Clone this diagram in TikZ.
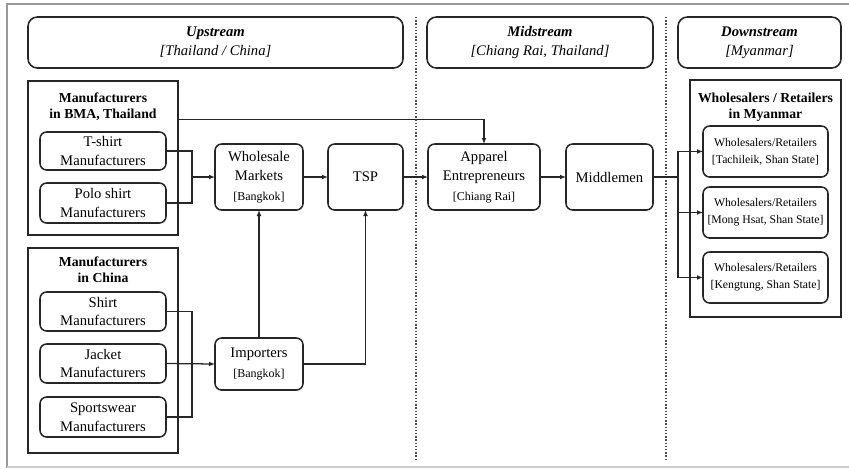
\documentclass[tikz,border=0pt]{standalone}
\usepackage{fontspec}
\setmainfont{Liberation Serif}
\usetikzlibrary{calc,arrows.meta}
% smaller type for the location tags under a box title
\newcommand\placetag[1]{{\fontsize{9}{11}\selectfont #1}}
\begin{document}
\begin{tikzpicture}[x=0.75pt,y=-0.75pt,
  every node/.style={inner sep=0pt, outer sep=0pt, text=black},
  sz/.style 2 args={minimum width=#1*0.75pt, minimum height=#2*0.75pt},
  stage/.style={draw=black!85, line width=1.2pt, rounded corners=7pt, align=center,
    font=\fontsize{11}{14.25}\selectfont},
  group/.style={draw=black!85, line width=1.3pt},
  unit/.style={draw=black!85, line width=1.15pt, rounded corners=5pt, align=center,
    font=\fontsize{11}{14}\selectfont},
  shop/.style={unit, font=\fontsize{8.8}{12.5}\selectfont},
  gtitle/.style={align=center, font=\bfseries\fontsize{10.3}{12}\selectfont},
  link/.style={line width=0.95pt, draw=black!85},
  arr/.style={link, -{Latex[length=4.5pt,width=3.6pt]}},
  divider/.style={line width=1.2pt, draw=black!70, dash pattern=on 1pt off 1.4pt},
  frame/.style={line width=1.5pt, draw=black!40}
]
\useasboundingbox (0,0) rectangle (849,468);

% page frame
\draw[frame] (849,4) -- (7,4) -- (7,468);
\draw[frame, draw=black!20] (7,466.5) -- (849,466.5);

% stage dividers
\draw[divider] (416,17) -- (416,460);
\draw[divider] (666,17) -- (666,460);

% stage headers
\node[stage, sz={375}{51}] (up) at (215.5,42.5) {\textbf{\textit{Upstream}}\\\textit{[Thailand / China]}};
\node[stage, sz={226}{51}] (mid) at (540,42.5) {\textbf{\textit{Midstream}}\\\textit{[Chiang Rai, Thailand]}};
\node[stage, sz={163}{51}] (down) at (759.5,42.5) {\textbf{\textit{Downstream}}\\\textit{[Myanmar]}};

% manufacturer groups
\node[group, sz={150}{154}] (bma) at (103,158) {};
\node[gtitle] (bmat) at (103,107) {Manufacturers\\in BMA, Thailand};
\node[unit, sz={126}{38}] (ts) at (103,151) {T-shirt\\Manufacturers};
\node[unit, sz={126}{40}] (po) at (103,203) {Polo shirt\\Manufacturers};

\node[group, sz={150}{205}] (cn) at (103,350.5) {};
\node[gtitle] (cnt) at (103,270) {Manufacturers\\in China};
\node[unit, sz={126}{39}] (sh) at (103,311.5) {Shirt\\Manufacturers};
\node[unit, sz={126}{39}] (ja) at (103,363.5) {Jacket\\Manufacturers};
\node[unit, sz={126}{40}] (sp) at (103,417) {Sportswear\\Manufacturers};

% trade chain
\node[unit, sz={88}{66}] (wm) at (259,177) {Wholesale\\Markets\\[1pt]\placetag{[Bangkok]}};
\node[unit, sz={75}{66}] (tsp) at (365.5,177) {TSP};
\node[unit, sz={88}{52}] (im) at (259,364) {Importers\\[1pt]\placetag{[Bangkok]}};
\node[unit, sz={112}{66}] (ap) at (484,177) {Apparel\\Entrepreneurs\\[1pt]\placetag{[Chiang Rai]}};
\node[unit, sz={87}{66}] (mm) at (609.5,177) {Middlemen};

% Myanmar outlets
\node[group, sz={151}{237}] (mya) at (765.5,198.5) {};
\node[gtitle] (myat) at (765.5,107) {Wholesalers / Retailers\\in Myanmar};
\node[shop, sz={125}{51}] (wr1) at (765.5,151.5) {Wholesalers/Retailers\\{[Tachileik, Shan State]}};
\node[shop, sz={125}{51}] (wr2) at (765.5,212.5) {Wholesalers/Retailers\\{[Mong Hsat, Shan State]}};
\node[shop, sz={125}{51}] (wr3) at (765.5,277.5) {Wholesalers/Retailers\\{[Kengtung, Shan State]}};

% junction points
\coordinate (j1) at (192,177);
\coordinate (j2) at (192,364);
\coordinate (j3) at (678,177);

% connectors
\draw[link] (ts.east) -| (j1);
\draw[link] (po.east) -| (j1);
\draw[arr] (j1) -- (wm.west);

\draw[link] (sh.east) -| (j2);
\draw[link] (sp.east) -| (j2);
\draw[arr] (ja.east) -- (im.west);

\draw[arr] (im.north) -- (wm.south);
\draw[arr] (im.east) -| (tsp.south);
\draw[arr] (wm.east) -- (tsp.west);
\draw[arr] (tsp.east) -- (ap.west);
\draw[arr] ($(bma.north east)!0.25!(bma.south east)$) -| (ap.north);
\draw[arr] (ap.east) -- (mm.west);

\draw[link] (mm.east) -- (j3);
\draw[arr] (j3) |- (wr1.west);
\draw[arr] (j3) |- (wr2.west);
\draw[arr] (j3) |- (wr3.west);
\end{tikzpicture}
\end{document}
